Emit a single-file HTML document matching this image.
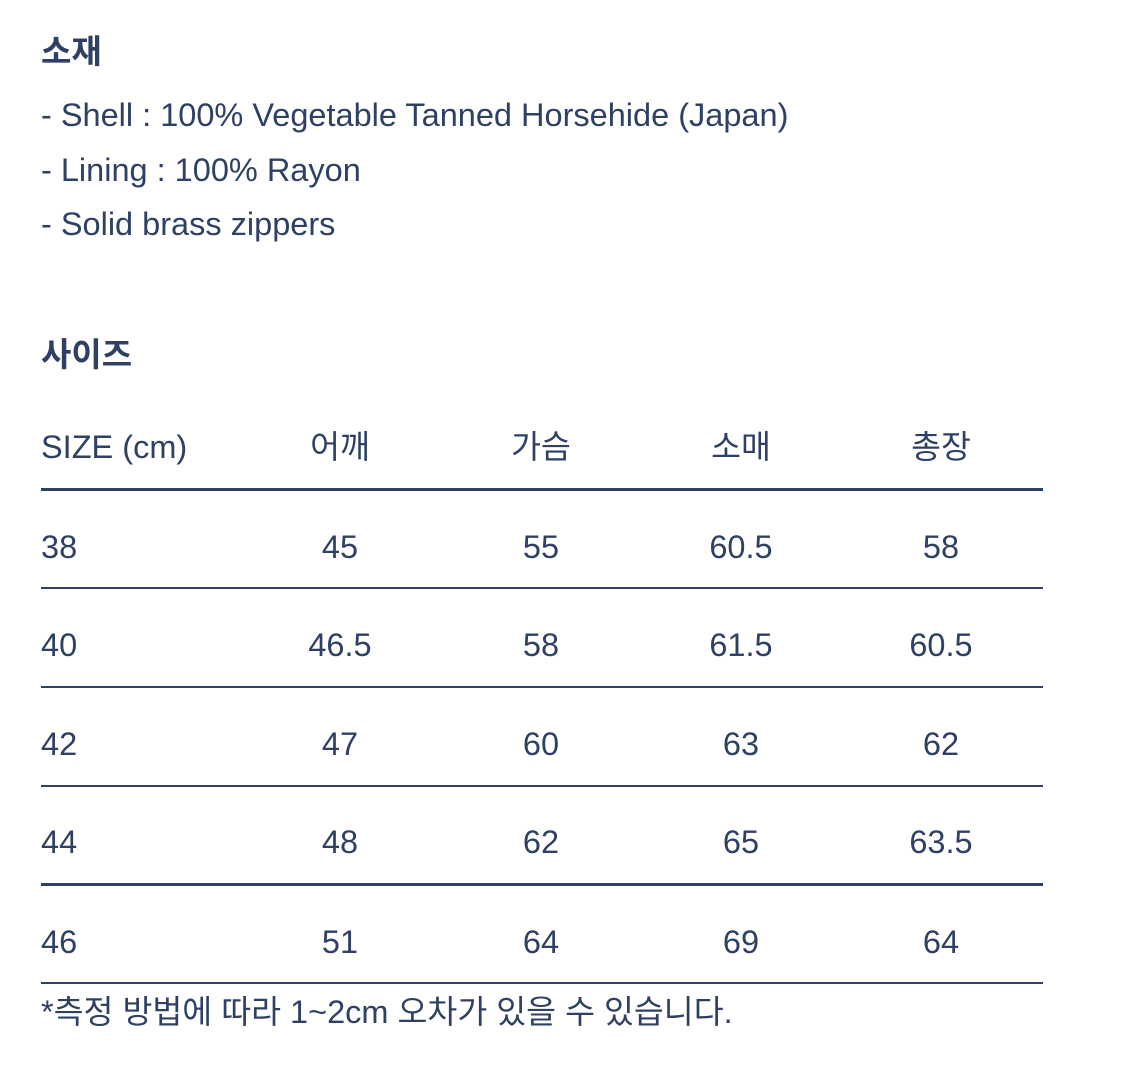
<!DOCTYPE html>
<html><head><meta charset="utf-8"><style>
body{margin:0;width:1125px;height:1090px;background:#fff;position:relative;overflow:hidden;font-family:"Liberation Sans","Noto Sans CJK KR",sans-serif;color:#2e4063}
.t{position:absolute;height:40px;line-height:40px;font-size:32.5px;white-space:nowrap}
.h{font-weight:bold;font-size:33px}
.c{width:200px;text-align:center}
.l{position:absolute;left:41px;width:1002px;background:#2e4063}
</style></head><body>
<div class="t h" style="left:41px;top:32px">소재</div>
<div class="t" style="left:41px;top:95px">- Shell : 100% Vegetable Tanned Horsehide (Japan)</div>
<div class="t" style="left:41px;top:150px">- Lining : 100% Rayon</div>
<div class="t" style="left:41px;top:204px">- Solid brass zippers</div>
<div class="t h" style="left:41px;top:335px">사이즈</div>

<div class="t" style="left:41px;top:427px">SIZE (cm)</div>
<div class="t c" style="left:240px;top:427px">어깨</div>
<div class="t c" style="left:441px;top:427px">가슴</div>
<div class="t c" style="left:641px;top:427px">소매</div>
<div class="t c" style="left:841px;top:427px">총장</div>
<div class="l" style="top:488px;height:3px"></div>

<div class="t" style="left:41px;top:527px">38</div>
<div class="t c" style="left:240px;top:527px">45</div>
<div class="t c" style="left:441px;top:527px">55</div>
<div class="t c" style="left:641px;top:527px">60.5</div>
<div class="t c" style="left:841px;top:527px">58</div>
<div class="l" style="top:587px;height:2px"></div>

<div class="t" style="left:41px;top:625px">40</div>
<div class="t c" style="left:240px;top:625px">46.5</div>
<div class="t c" style="left:441px;top:625px">58</div>
<div class="t c" style="left:641px;top:625px">61.5</div>
<div class="t c" style="left:841px;top:625px">60.5</div>
<div class="l" style="top:686px;height:2px"></div>

<div class="t" style="left:41px;top:724px">42</div>
<div class="t c" style="left:240px;top:724px">47</div>
<div class="t c" style="left:441px;top:724px">60</div>
<div class="t c" style="left:641px;top:724px">63</div>
<div class="t c" style="left:841px;top:724px">62</div>
<div class="l" style="top:785px;height:2px"></div>

<div class="t" style="left:41px;top:822px">44</div>
<div class="t c" style="left:240px;top:822px">48</div>
<div class="t c" style="left:441px;top:822px">62</div>
<div class="t c" style="left:641px;top:822px">65</div>
<div class="t c" style="left:841px;top:822px">63.5</div>
<div class="l" style="top:883px;height:3px"></div>

<div class="t" style="left:41px;top:922px">46</div>
<div class="t c" style="left:240px;top:922px">51</div>
<div class="t c" style="left:441px;top:922px">64</div>
<div class="t c" style="left:641px;top:922px">69</div>
<div class="t c" style="left:841px;top:922px">64</div>
<div class="l" style="top:982px;height:2px"></div>

<div class="t" style="left:41px;top:992px">*측정 방법에 따라 1~2cm 오차가 있을 수 있습니다.</div>
</body></html>
